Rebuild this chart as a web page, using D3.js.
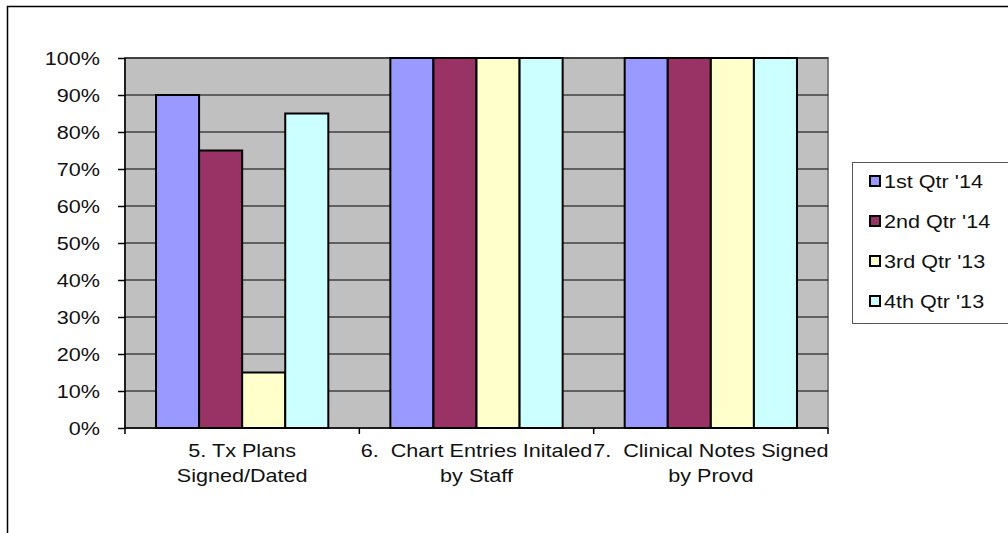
<!DOCTYPE html>
<html>
<head>
<meta charset="utf-8">
<script src="https://cdn.jsdelivr.net/npm/d3@7"></script>
<style>
  html, body { margin: 0; padding: 0; background: #fff; }
  svg { display: block; font-family: Arial, "Liberation Sans", sans-serif; }
  text { white-space: pre; }
</style>
</head>
<body>
<svg id="chart" width="1008" height="533"></svg>
<script>
// Compliance measures (category labels are split into wrapped lines)
const categories = ["5. Tx Plans Signed/Dated", "6.  Chart Entries Initaled by Staff", "7.  Clinical Notes Signed by Provd"];
const categoryLines = [
  ["5. Tx Plans", "Signed/Dated"],
  ["6.  Chart Entries Initaled", "by Staff"],
  ["7.  Clinical Notes Signed", "by Provd"]
];
const seriesNames = ["1st Qtr '14", "2nd Qtr '14", "3rd Qtr '13", "4th Qtr '13"];
const seriesColors = ["#9999FF", "#993366", "#FFFFCC", "#CCFFFF"];
const q1_14 = [0.90, 1.00, 1.00];
const q2_14 = [0.75, 1.00, 1.00];
const q3_13 = [0.15, 1.00, 1.00];
const q4_13 = [0.85, 1.00, 1.00];
const seriesValues = [q1_14, q2_14, q3_13, q4_13];
const yTicks = [0, 0.1, 0.2, 0.3, 0.4, 0.5, 0.6, 0.7, 0.8, 0.9, 1.0];

// Text is set in a slightly widened face
const FONT = 18;
const WIDEN = 1.2;

const svg = d3.select("#chart");

// Outer chart frame
svg.append("rect")
  .attr("x", 7.5).attr("y", 6.5)
  .attr("width", 1100).attr("height", 600)
  .attr("fill", "#fff").attr("stroke", "#000").attr("stroke-width", 1.5);

const plot = { left: 125, right: 828, top: 58, bottom: 428 };

const x0 = d3.scaleBand()
  .domain(categories)
  .range([plot.left, plot.right])
  .paddingInner(0).paddingOuter(0);

const x1 = d3.scaleBand()
  .domain(seriesNames)
  .range([0, x0.bandwidth()])
  .paddingInner(0)
  .paddingOuter(0.72);

const y = d3.scaleLinear().domain([0, 1]).range([plot.bottom, plot.top]);

// Plot background
svg.append("rect")
  .attr("x", plot.left).attr("y", plot.top)
  .attr("width", plot.right - plot.left).attr("height", plot.bottom - plot.top)
  .attr("fill", "#C0C0C0")
  .attr("stroke", "#808080").attr("stroke-width", 2);

// Horizontal gridlines
svg.append("g")
  .selectAll("line")
  .data(yTicks.filter(d => d > 0))
  .join("line")
  .attr("x1", plot.left).attr("x2", plot.right)
  .attr("y1", d => y(d)).attr("y2", d => y(d))
  .attr("stroke", "#000").attr("stroke-width", 1);

// Bars
const groups = svg.append("g")
  .selectAll("g")
  .data(categories)
  .join("g")
  .attr("transform", d => `translate(${x0(d)},0)`);

groups.selectAll("rect")
  .data((d, i) => seriesNames.map((s, j) => ({ s, j, v: seriesValues[j][i] })))
  .join("rect")
  .attr("x", d => x1(d.s))
  .attr("y", d => y(d.v))
  .attr("width", x1.bandwidth())
  .attr("height", d => y(0) - y(d.v))
  .attr("fill", d => seriesColors[d.j])
  .attr("stroke", "#000")
  .attr("stroke-width", 2);

// Y axis
const yAxis = d3.axisLeft(y)
  .tickValues(yTicks)
  .tickFormat(d3.format(".0%"))
  .tickSize(7);
const gy = svg.append("g")
  .attr("transform", `translate(${plot.left},0)`)
  .call(yAxis);
gy.select(".domain").attr("stroke", "#000").attr("stroke-width", 1.5)
  .attr("d", `M0,${plot.top}V${plot.bottom}`);
gy.selectAll(".tick line").attr("stroke", "#000").attr("stroke-width", 1.5);
gy.selectAll(".tick text")
  .attr("x", null).attr("dy", null)
  .attr("transform", `translate(-25,6) scale(${WIDEN},1)`)
  .attr("font-size", FONT)
  .attr("font-family", "Arial, 'Liberation Sans', sans-serif")
  .attr("fill", "#111");

// X axis: ticks at category boundaries
const boundaries = categories.map(c => x0(c)).concat([plot.right]);
svg.append("line")
  .attr("x1", plot.left).attr("x2", plot.right)
  .attr("y1", plot.bottom).attr("y2", plot.bottom)
  .attr("stroke", "#000").attr("stroke-width", 1.5);
svg.append("g")
  .selectAll("line")
  .data(boundaries)
  .join("line")
  .attr("x1", d => d).attr("x2", d => d)
  .attr("y1", plot.bottom).attr("y2", plot.bottom + 6)
  .attr("stroke", "#000").attr("stroke-width", 1.5);

// Category labels
const labels = svg.append("g")
  .selectAll("g")
  .data(categories)
  .join("g")
  .attr("transform", d => `translate(${x0(d) + x0.bandwidth() / 2},0)`);
labels.selectAll("text")
  .data((d, i) => categoryLines[i])
  .join("text")
  .attr("transform", (d, i) => `translate(0,${457 + i * 25}) scale(${WIDEN},1)`)
  .attr("text-anchor", "middle")
  .attr("font-size", FONT)
  .attr("fill", "#111")
  .text(d => d);

// Legend
const legend = svg.append("g");
legend.append("rect")
  .attr("x", 852.5).attr("y", 162.5)
  .attr("width", 200).attr("height", 161)
  .attr("fill", "#fff").attr("stroke", "#555").attr("stroke-width", 1);
const items = legend.selectAll("g.item")
  .data(seriesNames)
  .join("g")
  .attr("class", "item")
  .attr("transform", (d, i) => `translate(870,${182 + i * 40})`);
items.append("rect")
  .attr("x", 0).attr("y", -6)
  .attr("width", 10).attr("height", 10)
  .attr("fill", (d, i) => seriesColors[i])
  .attr("stroke", "#000").attr("stroke-width", 2);
items.append("text")
  .attr("transform", `translate(14,6) scale(${WIDEN},1)`)
  .attr("font-size", FONT)
  .attr("fill", "#111")
  .text(d => d);
</script>
</body>
</html>
